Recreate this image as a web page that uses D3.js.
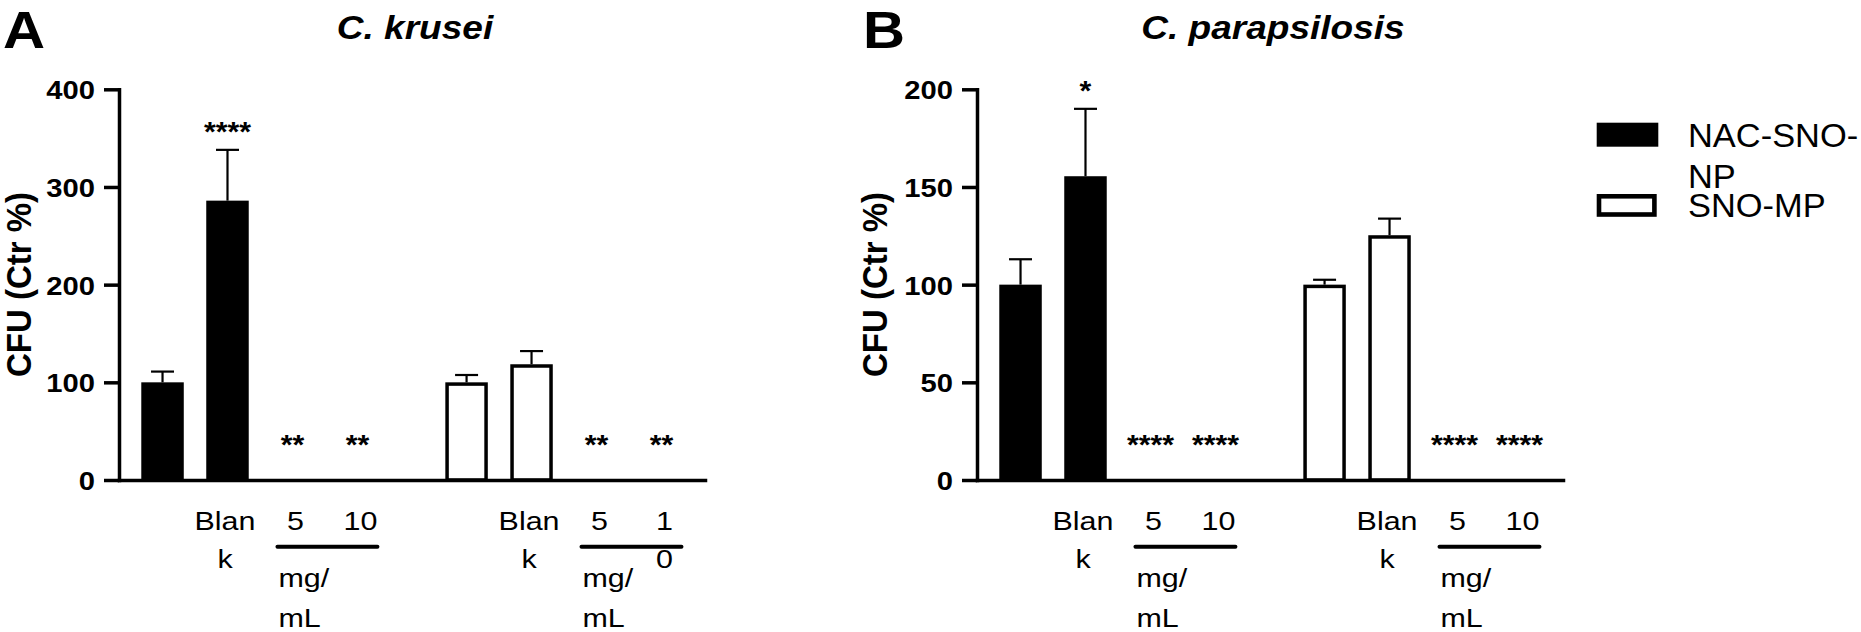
<!DOCTYPE html>
<html>
<head>
<meta charset="utf-8">
<script src="https://cdn.jsdelivr.net/npm/d3@7"></script>
<style>
  html, body { margin: 0; padding: 0; background: #fff; }
  svg { display: block; }
  text { font-family: "Liberation Sans", Arial, Helvetica, sans-serif; fill: #000; }
</style>
</head>
<body>
<svg id="chart" width="1861" height="632"></svg>
<script>
// ---------------- data ----------------
const panelLetters = ["A", "B"];
const panelTitles = ["C. krusei", "C. parapsilosis"];
const yAxisTitle = "CFU (Ctr %)";
const seriesNames = ["NAC-SNO-NP", "SNO-MP"];
const legendLines = [["NAC-SNO-", "NP"], ["SNO-MP"]];
const categories = ["Control", "Blank", "5", "10"];
const unitLines = ["mg/", "mL"];

// tick label lines as printed (wrapped) under each category, per panel and series group
const xLabelLinesA = [[[], ["Blan", "k"], ["5"], ["10"]], [[], ["Blan", "k"], ["5"], ["1", "0"]]];
const xLabelLinesB = [[[], ["Blan", "k"], ["5"], ["10"]], [[], ["Blan", "k"], ["5"], ["10"]]];

const yTicksA = [0, 100, 200, 300, 400];
const yTicksB = [0, 50, 100, 150, 200];

// C. krusei
const kruseiNAC = [100, 286, 0, 0];
const kruseiNACErr = [11, 52, 0, 0];
const kruseiSNO = [100, 118.5, 0, 0];
const kruseiSNOErr = [7.5, 13.5, 0, 0];
const kruseiNACSig = ["", "****", "**", "**"];
const kruseiSNOSig = ["", "", "**", "**"];

// C. parapsilosis
const parapNAC = [100, 155.5, 0, 0];
const parapNACErr = [13, 34.5, 0, 0];
const parapSNO = [100, 125.3, 0, 0];
const parapSNOErr = [2.5, 8.5, 0, 0];
const parapNACSig = ["", "*", "****", "****"];
const parapSNOSig = ["", "", "****", "****"];

// ---------------- drawing ----------------
const svg = d3.select("#chart");
const FONT = '"Liberation Sans", Arial, Helvetica, sans-serif';

function txt(g, x, y, s, o) {
  o = o || {};
  const sx = o.sx || 1;
  return g.append("text")
    .attr("transform", `translate(${x},${y}) scale(${sx},1)`)
    .attr("text-anchor", o.anchor || "start")
    .style("font-size", (o.size || 26) + "px")
    .style("font-weight", o.weight || "normal")
    .style("font-style", o.italic ? "italic" : "normal")
    .text(s);
}

const panels = [
  { letter: panelLetters[0], title: panelTitles[0], axisX: 119, yMax: 400, ticks: yTicksA,
    series: [
      { values: kruseiNAC, err: kruseiNACErr, sig: kruseiNACSig, filled: true, labels: xLabelLinesA[0] },
      { values: kruseiSNO, err: kruseiSNOErr, sig: kruseiSNOSig, filled: false, labels: xLabelLinesA[1] }
    ] },
  { letter: panelLetters[1], title: panelTitles[1], axisX: 977, yMax: 200, ticks: yTicksB,
    series: [
      { values: parapNAC, err: parapNACErr, sig: parapNACSig, filled: true, labels: xLabelLinesB[0] },
      { values: parapSNO, err: parapSNOErr, sig: parapSNOSig, filled: false, labels: xLabelLinesB[1] }
    ] }
];

const AXIS_W = 586, Y0 = 480, YTOP = 89.3, GROUP_GAP = 0.68;
const LW = 3.5;

panels.forEach((p, pi) => {
  const g = svg.append("g");
  const x0 = p.axisX, x1 = x0 + AXIS_W;
  const x = d3.scaleLinear().domain([-0.67, 8.35]).range([x0, x1]);
  const step = x(1) - x(0);
  const bw = 0.654 * step;
  const y = d3.scaleLinear().domain([0, p.yMax]).range([Y0, YTOP]);
  const slot = (s, i) => i + s * (categories.length + GROUP_GAP);

  // panel letter
  txt(g, pi === 0 ? 3 : 863, 48, p.letter, { size: 52, weight: "bold", sx: 1.12 });
  // title
  txt(g, (x0 + x1) / 2 + 3, 38.5, p.title, { size: 32.5, weight: "bold", italic: true, anchor: "middle", sx: 1.14 });
  // y title
  g.append("text")
    .attr("transform", `translate(${pi === 0 ? 31 : 887},284.5) rotate(-90) scale(1,1.08)`)
    .attr("text-anchor", "middle")
    .style("font-size", "33px").style("font-weight", "bold")
    .text(yAxisTitle);

  // bars
  p.series.forEach((s, si) => {
    const data = s.values.map((v, i) => ({ v, e: s.err[i], sig: s.sig[i], i, lab: s.labels[i] }));
    const bars = data.filter(d => d.v > 0);
    if (s.filled) {
      g.selectAll(null).data(bars).enter().append("rect")
        .attr("x", d => x(slot(si, d.i)) - bw / 2)
        .attr("y", d => y(d.v))
        .attr("width", bw)
        .attr("height", d => Y0 - y(d.v))
        .attr("fill", "#000");
    } else {
      g.selectAll(null).data(bars).enter().append("rect")
        .attr("x", d => x(slot(si, d.i)) - bw / 2 + LW / 2)
        .attr("y", d => y(d.v) + LW / 2)
        .attr("width", bw - LW)
        .attr("height", d => Y0 - y(d.v) - LW / 2)
        .attr("fill", "#fff").attr("stroke", "#000").attr("stroke-width", LW);
    }
    // error bars (upper only)
    const eb = bars.filter(d => d.e > 0);
    g.selectAll(null).data(eb).enter().append("line")
      .attr("x1", d => x(slot(si, d.i))).attr("x2", d => x(slot(si, d.i)))
      .attr("y1", d => y(d.v)).attr("y2", d => y(d.v + d.e))
      .attr("stroke", "#000").attr("stroke-width", 2.2);
    g.selectAll(null).data(eb).enter().append("line")
      .attr("x1", d => x(slot(si, d.i)) - 11.5).attr("x2", d => x(slot(si, d.i)) + 11.5)
      .attr("y1", d => y(d.v + d.e)).attr("y2", d => y(d.v + d.e))
      .attr("stroke", "#000").attr("stroke-width", 2.2);

    // significance marks
    data.filter(d => d.sig).forEach(d => {
      const cy = d.v > 0 ? y(d.v + d.e) - 24 : Y0 - 42;
      txt(g, x(slot(si, d.i)), cy + 15.5, d.sig, { size: 28, weight: "bold", anchor: "middle", sx: 1.08 });
    });

    // category labels
    data.forEach(d => {
      const cx = x(slot(si, d.i)) + (d.i === 1 ? -2.5 : 3);
      d.lab.forEach((line, li) => {
        txt(g, cx, 530 + li * 37.5, line, { size: 25.6, anchor: "middle", sx: 1.19 });
      });
    });

    // concentration underline + unit
    const ux1 = x(slot(si, 2)) - 15, ux2 = x(slot(si, 3)) + 20;
    g.append("line").attr("x1", ux1).attr("x2", ux2).attr("y1", 546.7).attr("y2", 546.7)
      .attr("stroke", "#000").attr("stroke-width", 4).attr("stroke-linecap", "round");
    unitLines.forEach((line, li) => {
      txt(g, ux1 + 1, 587 + li * 39.7, line, { size: 25.6, sx: 1.19 });
    });
  });

  // axes
  const yAxis = d3.axisLeft(y).tickValues(p.ticks).tickSize(15).tickSizeOuter(0).tickPadding(9)
    .tickFormat(d3.format("d"));
  const ya = g.append("g").attr("transform", `translate(${x0},0)`).call(yAxis);
  ya.select(".domain").attr("stroke-width", LW).attr("stroke-linecap", "square");
  ya.selectAll(".tick line").attr("stroke-width", LW);
  ya.selectAll(".tick text")
    .attr("x", 0).attr("dy", null)
    .attr("transform", "translate(-24,9.5) scale(1.1,1)")
    .style("font-family", FONT).style("font-size", "26.5px").style("font-weight", "bold").attr("fill", "#000");

  const xAxis = d3.axisBottom(x).tickValues([]).tickSizeOuter(0);
  const xa = g.append("g").attr("transform", `translate(0,${Y0})`).call(xAxis);
  xa.select(".domain").attr("stroke-width", LW).attr("stroke-linecap", "square");
});

// legend
const lg = svg.append("g");
lg.append("rect").attr("x", 1596.7).attr("y", 122.7).attr("width", 61.6).attr("height", 24).attr("fill", "#000");
lg.append("rect").attr("x", 1599).attr("y", 196.3).attr("width", 55.4).attr("height", 18.2)
  .attr("fill", "#fff").attr("stroke", "#000").attr("stroke-width", 4.6);
const legendBase = [[147, 188], [216.7]];
legendLines.forEach((lines, si) => {
  lines.forEach((line, li) => {
    txt(lg, 1688, legendBase[si][li], line, { size: 32.5, sx: 1.06 });
  });
});
</script>
</body>
</html>
